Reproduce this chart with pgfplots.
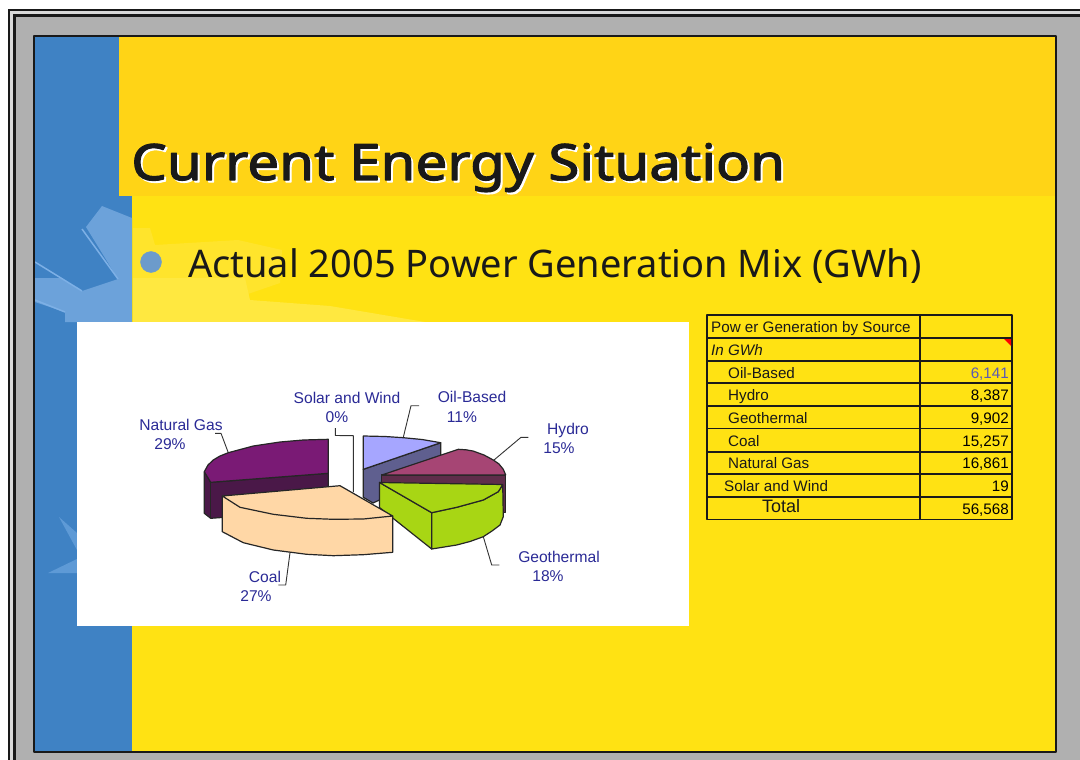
\documentclass[border=0pt]{standalone}
\usepackage{pgfplots}
\pgfplotsset{compat=1.18}
\usepackage{fontspec}
\setmainfont{Liberation Sans}
\newfontfamily\slidefont{Noto Sans}
\newfontfamily\titlefont[FakeBold=2.3,FakeStretch=1.13]{Noto Sans}
\definecolor{framegray}{HTML}{B0B0B0}
\definecolor{panelblue}{HTML}{3F82C4}
\definecolor{lightblue}{HTML}{6CA2DA}
\definecolor{palerblue}{HTML}{7DB0E6}
\definecolor{softblue}{HTML}{5E9AD6}
\definecolor{bulletblue}{HTML}{6C9BCB}
\definecolor{headyellow}{HTML}{FFD416}
\definecolor{bodyyellow}{HTML}{FFE213}
\definecolor{sunyellow}{HTML}{FFE840}
\definecolor{sunsoft}{HTML}{FFE42C}
\definecolor{labelblue}{HTML}{2A2A96}
\definecolor{gasTop}{HTML}{7A1A75}
\definecolor{gasSide}{HTML}{4A1848}
\definecolor{oilTop}{HTML}{A6A6FF}
\definecolor{oilSide}{HTML}{5F5F8F}
\definecolor{hydTop}{HTML}{A64574}
\definecolor{hydSide}{HTML}{5F2D4A}
\definecolor{geoTop}{HTML}{A8D614}
\definecolor{coalTop}{HTML}{FFD7A6}
\definecolor{tabline}{HTML}{1A1A1A}
\newcommand{\TXT}[4]{\node[anchor=#3,inner sep=0pt] at (axis cs:#1,#2) {#4};}
\newcommand{\LAB}[3]{\TXT{#1}{#2}{base}{\fontsize{15.6}{18}\selectfont\color{labelblue}#3}}
\newcommand{\TL}[3]{\TXT{#1}{#2}{base west}{\fontsize{15.2}{18}\selectfont\color{black!90}#3}}
\newcommand{\TR}[2]{\TXT{1009}{#1}{base east}{\fontsize{15.2}{18}\selectfont #2}}
\begin{document}
\begin{tikzpicture}
\begin{axis}[
  hide axis, scale only axis, width=1080pt, height=760pt,
  xmin=0, xmax=1080, ymin=0, ymax=760, y dir=reverse,
  clip=true, line join=round,
  every axis plot/.append style={forget plot}]
% frame
\addplot[fill=white,draw=none] coordinates {(0,0)(1080,0)(1080,760)(0,760)} -- cycle;
\addplot[fill=black!90,draw=none] coordinates {(8,9)(1080,9)(1080,760)(8,760)} -- cycle;
\addplot[fill=black!15,draw=none] coordinates {(10,11)(1080,11)(1080,760)(10,760)} -- cycle;
\addplot[fill=black!90,draw=none] coordinates {(13,14)(1080,14)(1080,760)(13,760)} -- cycle;
\addplot[fill=framegray,draw=none] coordinates {(16,17)(1080,17)(1080,760)(16,760)} -- cycle;
% panel
\addplot[fill=bodyyellow,draw=none] coordinates {(35,37)(1056,37)(1056,752)(35,752)} -- cycle;
\addplot[fill=panelblue,draw=none] coordinates {(35,37)(132,37)(132,752)(35,752)} -- cycle;
\addplot[fill=headyellow,draw=none] coordinates {(119,37)(1056,37)(1056,196)(119,196)} -- cycle;
% sun decoration
\addplot[fill=sunsoft,draw=none] coordinates {(133,228)(150,228)(155,245)(238,240)(282,250)(280,283)(245,295)(133,295)} -- cycle;
\addplot[fill=sunyellow,draw=none] coordinates {(133,278)(245,278)(250,300)(330,306)(425,322)(133,322)} -- cycle;
\addplot[fill=lightblue,draw=none] coordinates {(86,227)(102,206)(132,218)(132,322)(65,322)(65,312)(35,302)(35,278)(60,278)(82,291)(118,279)} -- cycle;
\addplot[palerblue,line width=1.5pt] coordinates {(82,229)(118,279)};
\addplot[palerblue,line width=1.5pt] coordinates {(35,262)(82,291)};
\addplot[palerblue,line width=1.5pt] coordinates {(35,300)(65,312)};
\addplot[fill=softblue,draw=none] coordinates {(59,517)(77,533)(77,550)} -- cycle;
\addplot[fill=softblue,draw=none] coordinates {(48,573)(77,559)(77,573)} -- cycle;
% panel outline
\addplot[draw=black!90,line width=2pt] coordinates {(34,36)(1056,36)(1056,752)(34,752)} -- cycle;
% bullet
\addplot[color=bulletblue,only marks,mark=*,mark size=10.5pt] coordinates {(151,262)};
\addplot[fill=palerblue,draw=none] coordinates {(151,262)(151,253)(156,254)(160,258)(160,262)} -- cycle;
% headings
\TXT{133}{182}{base west}{\titlefont\fontsize{50}{60}\selectfont\color{white}Current Energy Situation}
\TXT{131}{180}{base west}{\titlefont\fontsize{50}{60}\selectfont\color{black!90}Current Energy Situation}
\TXT{188}{277}{base west}{\slidefont\fontsize{38}{46}\selectfont\color{black!90}Actual 2005 Power Generation Mix (GWh)}
% chart box
\addplot[fill=white,draw=none] coordinates {(77,322)(689,322)(689,626)(77,626)} -- cycle;
% leaders
\addplot[black!80,line width=.9pt] coordinates {(215,433.3)(221,433.3)(228.3,452.7)};
\addplot[black!80,line width=.9pt] coordinates {(278.3,585)(285.7,585)(290,552.7)};
\addplot[black!80,line width=.9pt] coordinates {(419,405.7)(411,405.7)(403.3,437.3)};
\addplot[black!80,line width=.9pt] coordinates {(528.3,437.3)(521,437.3)(494,460)};
\addplot[black!80,line width=.9pt] coordinates {(499.3,565)(491.7,565)(483.3,536.7)};
\addplot[black!80,line width=.9pt] coordinates {(335.3,428)(335.3,435.5)(353.3,435.7)(353.3,492)};
% natural gas
\addplot[fill=gasSide,draw=black!85,line width=1.2pt] coordinates {(204.3,471.7)(210.7,482.3)(328.3,473.3)(328.3,510)(210.7,518.3)(204.3,513.3)} -- cycle;
\addplot[black!85,line width=1.2pt] coordinates {(210.7,482.3)(210.7,518.3)};
\addplot[fill=gasTop,draw=black!85,line width=1.2pt] coordinates {(328.3,439.3)(303.3,440)(280,442)(253.3,446)(228.3,452.7)(220,456)(213.3,460)(208,465)(204.3,471.7)(210.7,482.3)(328.3,473.3)} -- cycle;
% oil-based
\addplot[fill=oilSide,draw=black!85,line width=1.2pt] coordinates {(363.3,469.3)(440.7,442.7)(440.7,472)(373,503)(363.3,497.3)} -- cycle;
\addplot[fill=oilTop,draw=black!85,line width=1.2pt] coordinates {(363.3,436)(385,436.5)(403.3,437.7)(422,439.5)(440.7,442.7)(363.3,469.3)} -- cycle;
% hydro
\addplot[fill=hydSide,draw=black!85,line width=1.2pt] coordinates {(381.7,475)(505.7,475)(505.7,512.3)(381.7,512.3)} -- cycle;
\addplot[fill=hydTop,draw=black!85,line width=1.2pt] coordinates {(381.7,475)(458.3,449.3)(466,449.8)(473,451)(484,455)(493.3,460)(499,464)(503.3,469.3)(505.7,475)} -- cycle;
% geothermal
\addplot[fill=geoTop,draw=black!85,line width=1.2pt] coordinates {(379.5,482.5)(431.7,512.7)(431.7,549)(379.5,507.5)} -- cycle;
\addplot[fill=geoTop,draw=black!85,line width=1.2pt] coordinates {(431.7,512.7)(456.7,507.3)(483.3,500)(498.3,491.7)(502.7,485)(503.3,516.7)(500,525)(492,531)(483.3,536.7)(470,541.5)(456.7,545)(431.7,549)} -- cycle;
\addplot[fill=geoTop,draw=black!85,line width=1.2pt] coordinates {(379.5,482.5)(502.7,484.5)(498.3,491.7)(483.3,500)(456.7,507.3)(431.7,512.7)} -- cycle;
% coal
\addplot[fill=coalTop,draw=black!85,line width=1.2pt] coordinates {(222.3,496)(222.3,531.7)(243.3,542.7)(273.3,550)(306.7,554.3)(333.3,555.7)(363.3,554.7)(392.7,552.3)(392.7,516)} -- cycle;
\addplot[fill=coalTop,draw=black!85,line width=1.2pt] coordinates {(222.3,496)(340,485.7)(392.7,516)(363.3,519)(333.3,519.3)(306.7,518.3)(273.3,514.3)(240,507.3)} -- cycle;
% labels
\LAB{181}{430}{Natural Gas}
\LAB{170}{449}{29\%}
\LAB{347}{403}{Solar and Wind}
\LAB{337}{422}{0\%}
\LAB{472}{402}{Oil-Based}
\LAB{462}{422}{11\%}
\LAB{568}{434}{Hydro}
\LAB{559}{453}{15\%}
\LAB{559}{562}{Geothermal}
\LAB{548}{581}{18\%}
\LAB{265}{582}{Coal}
\LAB{256}{601}{27\%}
% table grid
\addplot[draw=tabline,line width=1.8pt] coordinates {(707.3,315)(1011.7,315)(1011.7,519.5)(707.3,519.5)} -- cycle;
\addplot[tabline,line width=1.8pt] coordinates {(920,315)(920,519.5)};
\addplot[tabline,line width=1.8pt] coordinates {(707.3,338)(1011.7,338)};
\addplot[tabline,line width=1.8pt] coordinates {(707.3,360.7)(1011.7,360.7)};
\addplot[tabline,line width=1.8pt] coordinates {(707.3,383.3)(1011.7,383.3)};
\addplot[tabline,line width=1.8pt] coordinates {(707.3,406)(1011.7,406)};
\addplot[tabline,line width=1.8pt] coordinates {(707.3,428.5)(1011.7,428.5)};
\addplot[tabline,line width=1.8pt] coordinates {(707.3,451.7)(1011.7,451.7)};
\addplot[tabline,line width=1.8pt] coordinates {(707.3,474)(1011.7,474)};
\addplot[tabline,line width=1.8pt] coordinates {(707.3,496.7)(1011.7,496.7)};
\addplot[fill=red,draw=none] coordinates {(1004,339)(1011,339)(1011,346)} -- cycle;
% table text
\TL{711}{332}{Pow er Generation by Source}
\TL{711}{355}{\itshape In GWh}
\TL{728}{378}{Oil-Based}
\TL{728}{400}{Hydro}
\TL{728}{423}{Geothermal}
\TL{728}{446}{Coal}
\TL{728}{468}{Natural Gas}
\TL{724}{491}{Solar and Wind}
\TXT{762}{512.5}{base west}{\fontsize{18}{20}\selectfont\color{black!90}Total}
\TR{378}{\color[HTML]{5A5AB4}6,141}
\TR{400}{8,387}
\TR{423}{9,902}
\TR{446}{15,257}
\TR{468}{16,861}
\TR{491}{19}
\TR{514}{56,568}
\end{axis}
\end{tikzpicture}
\end{document}
